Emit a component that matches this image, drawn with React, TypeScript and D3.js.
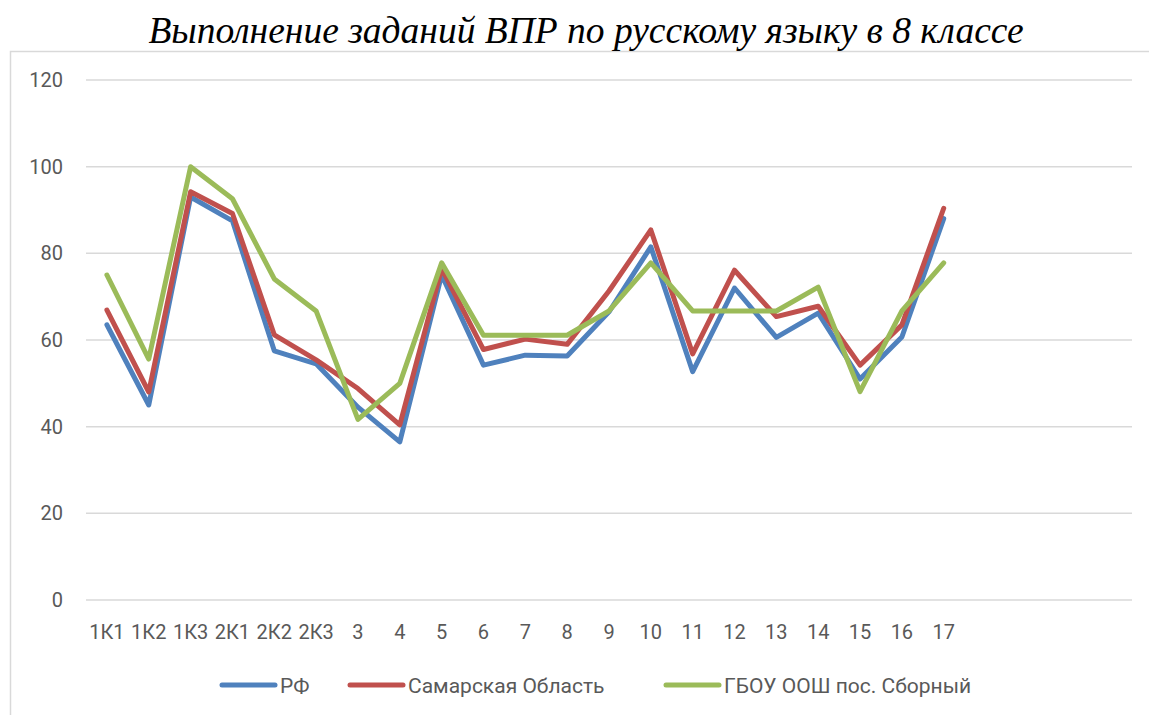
import React, { useEffect, useRef } from "react";
import * as d3 from "d3";

const categories = [
  "1К1", "1К2", "1К3", "2К1", "2К2", "2К3", "3", "4", "5", "6", "7", "8", "9",
  "10", "11", "12", "13", "14", "15", "16", "17", "", " ", "  ", "   ",
];

const rfValues = [63.5, 45, 93, 87.5, 57.5, 54.5, 44.5, 36.5, 75, 54.2, 56.5, 56.3, 66.5, 81.5, 52.7, 72, 60.6, 66.2, 51, 60.7, 88];
const samaraValues = [66.9, 48, 94.2, 89.2, 61.2, 55.4, 48.8, 40.4, 76.5, 57.8, 60.2, 59, 71.3, 85.4, 56.8, 76.1, 65.4, 67.8, 54.2, 63.5, 90.4];
const schoolValues = [75, 55.6, 100, 92.6, 74.1, 66.7, 41.7, 50, 77.8, 61.1, 61.1, 61.1, 66.7, 77.8, 66.7, 66.7, 66.7, 72.2, 48.1, 66.7, 77.8];

const yTicks = [0, 20, 40, 60, 80, 100, 120];

const seriesNames = ["РФ", "Самарская Область", "ГБОУ ООШ пос. Сборный"];
const seriesColors = ["#4F81BD", "#C0504D", "#9BBB59"];

const App = () => {
  const ref = useRef<SVGSVGElement>(null);

  useEffect(() => {
    const width = 1149;
    const height = 715;
    const margin = { top: 80, right: 17, bottom: 115, left: 86 };
    const font = "Roboto, 'Open Sans', sans-serif";

    const svg = d3.select(ref.current);
    svg.selectAll("*").remove();

    svg.append("rect").attr("width", width).attr("height", height).attr("fill", "#fff");

    // chart area border (only top and left are in frame)
    svg.append("path")
      .attr("d", `M10.5,${height} V51.5 H${width}`)
      .attr("fill", "none")
      .attr("stroke", "#d9d9d9")
      .attr("stroke-width", 1.5);

    svg.append("text")
      .attr("x", 586)
      .attr("y", 43)
      .attr("text-anchor", "middle")
      .attr("font-family", "'Liberation Serif', 'Times New Roman', serif")
      .attr("font-style", "italic")
      .attr("font-size", 37.5)
      .attr("fill", "#000")
      .text("Выполнение заданий ВПР по русскому языку в 8 классе");

    const x = d3.scaleBand()
      .domain(categories)
      .range([margin.left, width - margin.right]);

    const y = d3.scaleLinear()
      .domain([0, 120])
      .range([height - margin.bottom, margin.top]);

    const g = svg.append("g");

    // gridlines
    g.selectAll(".grid")
      .data(yTicks)
      .enter()
      .append("line")
      .attr("x1", margin.left)
      .attr("x2", width - margin.right)
      .attr("y1", d => y(d))
      .attr("y2", d => y(d))
      .attr("stroke", "#d9d9d9")
      .attr("stroke-width", 1.5);

    // y tick labels
    g.selectAll(".ylab")
      .data(yTicks)
      .enter()
      .append("text")
      .attr("x", 63)
      .attr("y", d => y(d) + 7)
      .attr("text-anchor", "end")
      .attr("font-family", font)
      .attr("font-size", 20)
      .attr("fill", "#595959")
      .text(d => d);

    // x tick labels
    g.selectAll(".xlab")
      .data(categories)
      .enter()
      .append("text")
      .attr("x", d => (x(d) as number) + x.bandwidth() / 2)
      .attr("y", 639)
      .attr("text-anchor", "middle")
      .attr("font-family", font)
      .attr("font-size", 20)
      .attr("fill", "#595959")
      .text(d => d.trim());

    const allSeries = [rfValues, samaraValues, schoolValues];

    const line = d3.line<number>()
      .x((d, i) => (x(categories[i]) as number) + x.bandwidth() / 2)
      .y(d => y(d));

    allSeries.forEach((values, k) => {
      g.append("path")
        .datum(values)
        .attr("fill", "none")
        .attr("stroke", seriesColors[k])
        .attr("stroke-width", 5)
        .attr("stroke-linejoin", "round")
        .attr("stroke-linecap", "round")
        .attr("d", line);
    });

    // legend
    const legendX = [222, 350, 666];
    const legend = svg.append("g");
    seriesNames.forEach((name, k) => {
      legend.append("line")
        .attr("x1", legendX[k])
        .attr("x2", legendX[k] + 53)
        .attr("y1", 685)
        .attr("y2", 685)
        .attr("stroke", seriesColors[k])
        .attr("stroke-width", 5)
        .attr("stroke-linecap", "round");
      legend.append("text")
        .attr("x", legendX[k] + 58)
        .attr("y", 692.5)
        .attr("font-family", font)
        .attr("font-size", 21)
        .attr("fill", "#595959")
        .text(name);
    });
  }, []);

  return (
    <svg
      ref={ref}
      width={1149}
      height={715}
      style={{ position: "absolute", left: 0, top: 0 }}
    />
  );
};

export default App;
